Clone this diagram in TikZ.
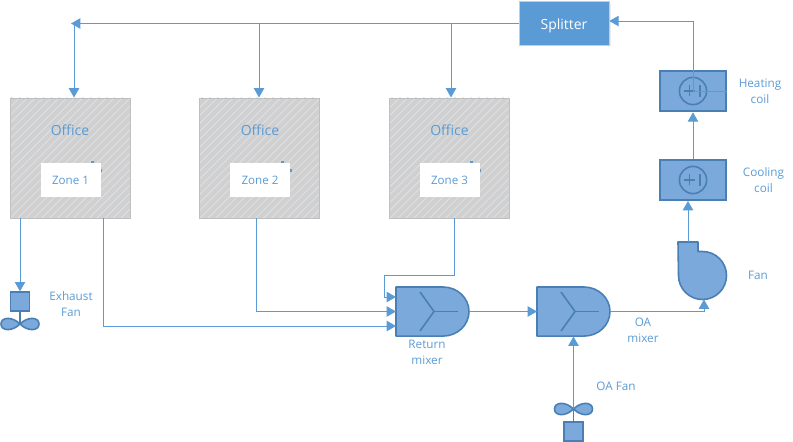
\documentclass[tikz,border=0pt]{standalone}
\usepackage{fontspec}
\setmainfont{Open Sans}
\usetikzlibrary{arrows.meta,patterns.meta,calc}
\definecolor{lineblue}{HTML}{5B9BD5}
\definecolor{symfill}{HTML}{7CA9DB}
\definecolor{symedge}{HTML}{4A7FB3}
\definecolor{hatchbg}{HTML}{D0D0D0}
\definecolor{hatchln}{HTML}{DDE0E4}
\tikzset{
  x=0.75pt,y=-0.75pt,
  conn/.style={draw=lineblue,line width=0.7pt,-{Triangle[width=7.8pt,length=7pt]}},
  plainconn/.style={draw=lineblue,line width=0.7pt},
  office/.style={minimum width=90pt,minimum height=90pt,inner sep=0pt,draw=hatchbg!92!black,line width=0.5pt,
     preaction={fill=hatchbg},pattern={Lines[angle=45,distance=4.2pt,line width=0.7pt]},pattern color=hatchln},
  zone/.style={fill=white,minimum width=45pt,minimum height=25.5pt,inner sep=0pt,text=lineblue,font=\fontsize{8.7}{10}\selectfont},
  lbl/.style={text=lineblue,font=\fontsize{8.8}{12}\selectfont,align=center,inner sep=0pt},
  bigl/.style={text=lineblue,font=\fontsize{10.5}{12}\selectfont,inner sep=0pt},
  coilbox/.style={draw=symedge,fill=symfill,line width=1.5pt,minimum width=50pt,minimum height=30.5pt,inner sep=0pt},
  sym/.style={draw=symedge,fill=symfill,line width=1.2pt,line join=round},
  symin/.style={draw=symedge,line width=1.2pt},
  fansq/.style={draw=symedge,fill=symfill,line width=1.2pt,minimum width=14pt,minimum height=14pt,inner sep=0pt},
}
\newcommand{\mixershape}[2]{% x,y of top-left
  \path[sym] (#1,#2) -- ++(47,0) arc[start angle=90,end angle=-90,x radius=19.5pt,y radius=18.4pt] -- ++(-47,0) -- cycle;
  \draw[symin] (#1+24,#2+5) -- (#1+38,#2+24.5) -- (#1+24,#2+44);
  \draw[symin] (#1+38,#2+24.5) -- (#1+62,#2+24.5);
}
\newcommand{\propeller}[2]{% centre
  \path[sym] (#1,#2) .. controls (#1-8,#2-8) and (#1-19,#2-7) .. (#1-19,#2) .. controls (#1-19,#2+7) and (#1-8,#2+8) .. (#1,#2)
    .. controls (#1+8,#2-8) and (#1+19,#2-7) .. (#1+19,#2) .. controls (#1+19,#2+7) and (#1+8,#2+8) .. (#1,#2) -- cycle;
}
\newcommand{\coilsym}[2]{%
  \draw[symin] (#1,#2) circle[radius=10.2pt];
  \draw[symin] (#1-9,#2) -- (#1+2,#2) (#1-3.5,#2-5.5) -- (#1-3.5,#2+5.5) (#1+7,#2-6) -- (#1+7,#2+6);
}
\begin{document}
\begin{tikzpicture}
\useasboundingbox (0,0) rectangle (793,442);
% offices
\node[office] (o1) at (70,158) {};
\node[office] (o2) at (259.5,158) {};
\node[office] (o3) at (449,158) {};
\node[bigl] (o1t) at (70,130) {Office};
\node[bigl] (o2t) at (260,130) {Office};
\node[bigl] (o3t) at (449.5,130) {Office};
\foreach \dx in {0,189.5,379}{
  \fill[lineblue] (91+\dx,161) rectangle (94+\dx,164);
  \fill[lineblue] (100+\dx,169) rectangle (102+\dx,172);
}
\node[zone] (z1) at (70.5,180) {Zone 1};
\node[zone] (z2) at (260,180) {Zone 2};
\node[zone] (z3) at (449.5,180) {Zone 3};
% splitter
\fill[black!8] (520,3.5) rectangle (610.5,46.5);
\node[draw=black!20,line width=0.5pt,fill=lineblue,minimum width=67.5pt,minimum height=32.5pt,inner sep=0pt,text=white,text height=10pt,text depth=1pt,font=\fontsize{10.5}{11}\selectfont] (spl) at (564,23.5) {Splitter};
% coils
\node[coilbox] (hc) at (693,91) {};
\node[coilbox] (cc) at (693,180) {};
\coilsym{693}{91}
\coilsym{693}{180}
\node[lbl] at (760,91) {Heating\\coil};
\node[lbl] at (763.5,180) {Cooling\\coil};
% fan
\path[sym] (678,242) -- (698,242) -- (698,251.5) -- (702.5,251.5)
  arc[start angle=90,end angle=-90,radius=18pt] arc[start angle=-90,end angle=-180,radius=18pt] -- cycle;
\coordinate (fanbot) at (704,299.5);
\coordinate (fantop) at (688,242);
\node[lbl] at (758,275) {Fan};
% mixers
\mixershape{396}{287}
\mixershape{537}{287}
\coordinate (rmout) at (469,311.5);
\coordinate (oain) at (537,311.5);
\coordinate (oaout) at (610,311.5);
\coordinate (rm1) at (396,297);
\coordinate (rm2) at (396,311.5);
\coordinate (rm3) at (396,326);
\coordinate (oabot) at (573.5,336.5);
\node[lbl] at (427,352) {Return\\mixer};
\node[lbl] at (643,330.5) {OA\\mixer};
% fans
\node[fansq] (ef) at (20,301.5) {};
\propeller{20}{324}
\node[fansq] (of) at (573.5,431.5) {};
\propeller{573.5}{409}
\node[lbl] at (71,304) {Exhaust\\Fan};
\node[lbl] at (616,386) {OA Fan};
\coordinate (o1a) at (74,97.5);
\coordinate (o2a) at (259,97.5);
\coordinate (o3a) at (451,97.5);
% connectors
\draw[conn] (spl.west) -- (71,23.5);
\draw[conn] (74,23.5) -- (o1a);
\draw[conn] (259,23.5) -- (o2a);
\draw[conn] (451,23.5) -- (o3a);
\draw[conn] (693,91) -- (693,21) -- (spl.east |- 0,21);
\draw[plainconn] (693,91) -- (hc.east);
\draw[conn] (cc.north) -- (hc.south);
\draw[conn] (fantop) -- (688,201);
\draw[conn] (oaout) -- (704,311.5) -- (fanbot);
\draw[conn] (rmout) -- (oain);
\draw[conn] (454,218) -- (454,275) -- (384,275) -- (384,297) -- (rm1);
\draw[conn] (256,218) -- (256,311.5) -- (rm2);
\draw[conn] (103,218) -- (103,326) -- (rm3);
\draw[conn] (20,218) -- (ef.north);
\draw[symin] (ef.south) -- (20,324);
\draw[conn] (573.5,409) -- (oabot);
\draw[symin] (of.north) -- (573.5,409);
\end{tikzpicture}
\end{document}
